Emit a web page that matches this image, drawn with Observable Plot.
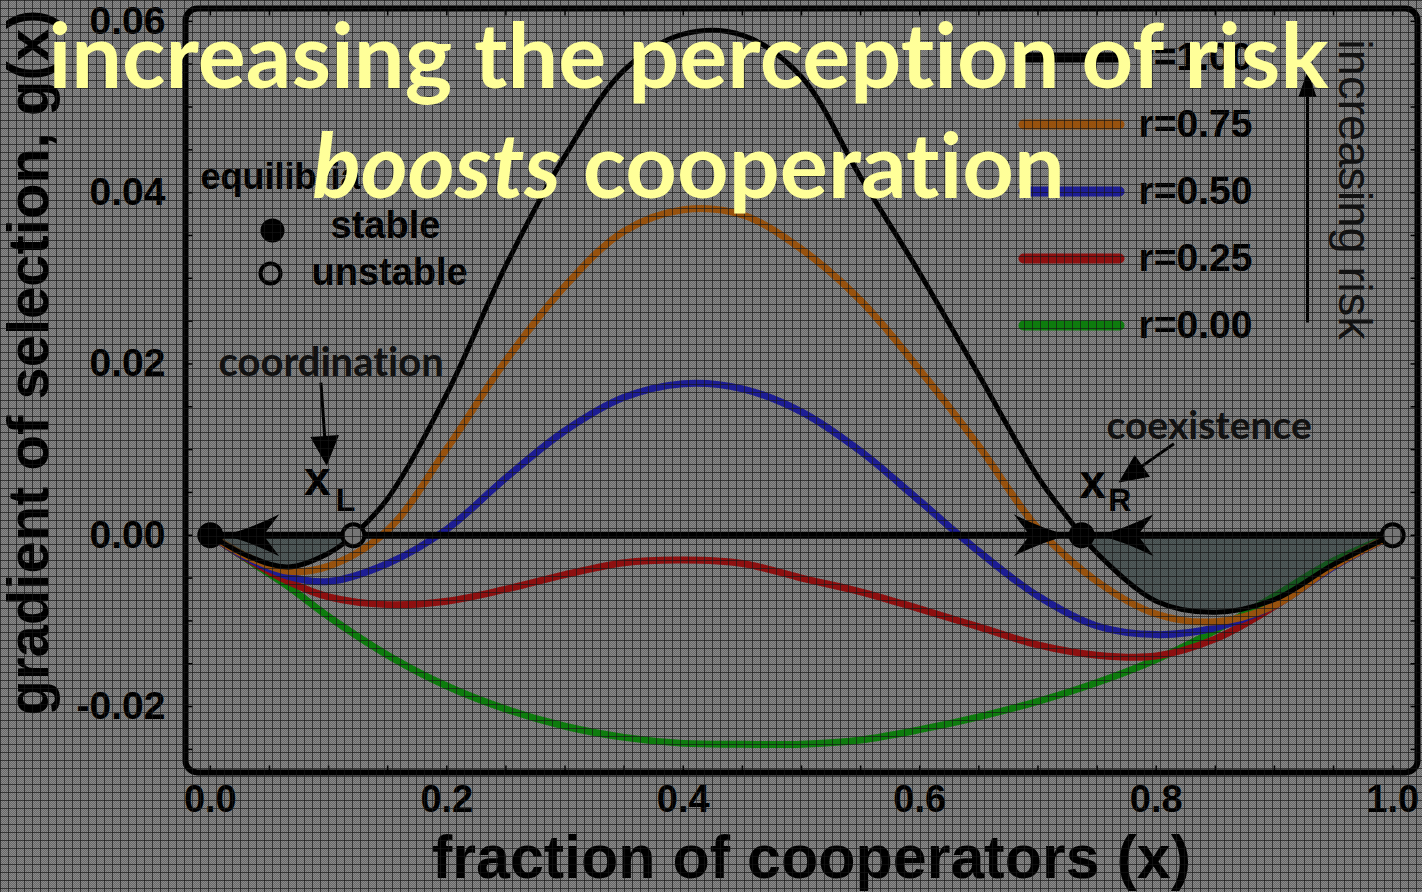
<!DOCTYPE html>
<html>
<head>
<meta charset="utf-8">
<script src="https://cdn.jsdelivr.net/npm/d3@7"></script>
<script src="https://cdn.jsdelivr.net/npm/@observablehq/plot@0.6"></script>
<style>
  html, body { margin: 0; padding: 0; }
  body {
    width: 1422px; height: 892px; overflow: hidden; position: relative;
    background-color: #777777;
    background-image: repeating-conic-gradient(#6a6a6a 0% 25%, #8a8a8a 0% 50%);
    background-size: 2px 2px;
    font-family: "Liberation Sans", Arial, sans-serif;
  }
  #chart { position: absolute; left: 0; top: 0; }
  #chart text { font-variant-ligatures: none; }
  /* fine dark screen grid lying over the whole figure */
  #grain {
    position: absolute; inset: 0; pointer-events: none;
    background-image:
      linear-gradient(90deg, rgba(20,20,20,0.65) 1px, transparent 1px),
      linear-gradient(180deg, rgba(20,20,20,0.65) 1px, transparent 1px);
    background-size: 8px 8px;
  }
  .headline {
    position: absolute; left: 0; width: 1377px; text-align: center;
    font-family: Lato, "Open Sans", sans-serif; font-weight: 700;
    font-size: 90px; line-height: 90px; color: #ffff99; white-space: nowrap;
    font-variant-ligatures: none; font-feature-settings: "liga" 0, "dlig" 0;
  }
</style>
</head>
<body>
<div id="chart"></div>
<div id="grain"></div>
<div class="headline" style="top:8px">increasing the perception of risk</div>
<div class="headline" style="top:118px"><i>boosts</i> cooperation</div>
<script>
// ---- data -------------------------------------------------------------
const riskLabels = ["r=1.00", "r=0.75", "r=0.50", "r=0.25", "r=0.00"];
const riskColors = ["#000000", "#98520e", "#1d1d94", "#8e1010", "#0e7c0e"];

// fraction of cooperators at which g(x) is sampled
const fractionX = [0, 0.033, 0.066, 0.10, 0.15, 0.20, 0.25, 0.30, 0.35, 0.40, 0.45,
                   0.50, 0.55, 0.60, 0.65, 0.70, 0.75, 0.80, 0.85, 0.90, 0.95, 1.00];

// gradient of selection g(x) for each perceived risk r
const gradR100 = [0, -0.0025, -0.0037, -0.0021, 0.0043, 0.0165, 0.0315, 0.0443, 0.0543, 0.0585, 0.0584,
                  0.0535, 0.0418, 0.0306, 0.0187, 0.0068, -0.0021, -0.0077, -0.0090, -0.0075, -0.0034, 0];
const gradR075 = [0, -0.0026, -0.0042, -0.0036, 0.0006, 0.0101, 0.0204, 0.0291, 0.0355, 0.0380, 0.0374,
                  0.0334, 0.0274, 0.0193, 0.0104, 0.0008, -0.0054, -0.0092, -0.0101, -0.0082, -0.0036, 0];
const gradR050 = [0, -0.0028, -0.0048, -0.0054, -0.0033, 0.0007, 0.0067, 0.0122, 0.0161, 0.0177, 0.0171,
                  0.0144, 0.0098, 0.0040, -0.0019, -0.0071, -0.0106, -0.0116, -0.0108, -0.0082, -0.0037, 0];
const gradR025 = [0, -0.0029, -0.0054, -0.0072, -0.0081, -0.0077, -0.0063, -0.0046, -0.0032, -0.0029, -0.0033,
                  -0.0050, -0.0066, -0.0086, -0.0107, -0.0128, -0.0140, -0.0141, -0.0121, -0.0083, -0.0036, 0];
const gradR000 = [0, -0.0030, -0.0060, -0.0095, -0.0140, -0.0176, -0.0203, -0.0223, -0.0236, -0.0243, -0.0244,
                  -0.0244, -0.0239, -0.0227, -0.0212, -0.0194, -0.0172, -0.0145, -0.0111, -0.0071, -0.0030, 0];

// equilibria of the r = 1.00 dynamics
const equilibriumX = [0, 0.121, 0.737, 1];
const equilibriumKind = ["stable", "unstable", "stable", "unstable"];

const xTicks = [0, 0.2, 0.4, 0.6, 0.8, 1.0];
const yTicks = [-0.02, 0, 0.02, 0.04, 0.06];

// ---- tables -------------------------------------------------------------
const seriesValues = [gradR100, gradR075, gradR050, gradR025, gradR000];
const curves = riskLabels.map((label, i) => {
  const pts = fractionX.map((x, j) => ({x, g: seriesValues[i][j]}));
  if (i === 0) {
    equilibriumX.forEach(x => { if (x > 0 && x < 1) pts.push({x, g: 0}); });
    pts.sort((a, b) => a.x - b.x);
  }
  return {label, color: riskColors[i], pts};
});
const black = curves[0].pts;
const xL = equilibriumX[1], xR = equilibriumX[2];
const basinLeft = black.filter(d => d.x <= xL);
const basinRight = black.filter(d => d.x >= xR);
const equilibria = equilibriumX.map((x, i) => ({x, kind: equilibriumKind[i]}));

// ---- custom symbols -----------------------------------------------------
const rotPt = (x, y, a) => [x * Math.cos(a) - y * Math.sin(a), x * Math.sin(a) + y * Math.cos(a)];
// stealth arrowhead, tip at the anchor
function stealthHead(deg) {
  const a = deg * Math.PI / 180;
  return {draw(ctx) {
    const p = (x, y) => rotPt(x, y, a);
    ctx.moveTo(...p(0, 0));
    ctx.quadraticCurveTo(...p(-26, -6), ...p(-56, -21));
    ctx.lineTo(...p(-40, 0));
    ctx.lineTo(...p(-56, 21));
    ctx.quadraticCurveTo(...p(-26, 6), ...p(0, 0));
    ctx.closePath();
  }};
}
// straight arrow with a filled triangular head, tip at the anchor
function pointer(deg, len, headLen, headHalf) {
  const a = deg * Math.PI / 180;
  return {draw(ctx) {
    const p = (x, y) => rotPt(x, y, a);
    ctx.moveTo(...p(-len, 0));
    ctx.lineTo(...p(-headLen + 2, 0));
    ctx.moveTo(...p(0, 0));
    ctx.lineTo(...p(-headLen, -headHalf));
    ctx.lineTo(...p(-headLen, headHalf));
    ctx.closePath();
  }};
}
const swatch = {draw(ctx) { ctx.moveTo(-48, 0); ctx.lineTo(48, 0); }};
const tickSym = (dx, dy) => ({draw(ctx) { ctx.moveTo(0, 0); ctx.lineTo(dx, dy); }});

// ---- chart ----------------------------------------------------------------
const boldSans = {fontFamily: "Liberation Sans, Arial, sans-serif", fontWeight: "bold", fill: "black"};
const calibriLike = {fontFamily: "Lato, sans-serif", fontWeight: "bold", fill: "#111"};
const mid = {lineAnchor: "middle"};
const xMinor = d3.range(0, 1.0001, 0.05);
const yMinor = d3.range(-0.025, 0.0601, 0.005);

const marks = [
  // small inner ticks
  Plot.dot(xMinor, {x: d => d, frameAnchor: "bottom", symbol: tickSym(0, -7), stroke: "black", strokeWidth: 1.5}),
  Plot.dot(xMinor, {x: d => d, frameAnchor: "top", symbol: tickSym(0, 7), stroke: "black", strokeWidth: 1.5}),
  Plot.dot(yMinor, {y: d => d, frameAnchor: "left", symbol: tickSym(7, 0), stroke: "black", strokeWidth: 1.5}),
  Plot.dot(yMinor, {y: d => d, frameAnchor: "right", symbol: tickSym(-7, 0), stroke: "black", strokeWidth: 1.5}),

  Plot.axisX(xTicks, {tickSize: 0, tickPadding: 13, tickFormat: d => d.toFixed(1), fontSize: 38, ...boldSans, label: null}),
  Plot.axisY(yTicks, {tickSize: 0, tickPadding: 20, tickFormat: d => d.toFixed(2), fontSize: 39, ...boldSans, label: null}),

  // colored curves, lowest risk drawn first
  ...curves.slice(1).reverse().map(c =>
    Plot.line(c.pts, {x: "x", y: "g", stroke: c.color, strokeWidth: 7, curve: "catmull-rom"})),

  // basins below zero for r = 1.00
  Plot.areaY(basinLeft, {x: "x", y1: 0, y2: "g", curve: "catmull-rom", fill: "#1b2d2d", fillOpacity: 0.5}),
  Plot.areaY(basinRight, {x: "x", y1: 0, y2: "g", curve: "catmull-rom", fill: "#1b2d2d", fillOpacity: 0.5}),

  Plot.line(black, {x: "x", y: "g", stroke: "black", strokeWidth: 5, curve: "catmull-rom"}),

  // the x-axis of the flow with its direction arrows
  Plot.ruleY([0], {x1: d3.min(equilibriumX), x2: d3.max(equilibriumX), stroke: "black", strokeWidth: 7}),
  Plot.dot([equilibriumX[0]], {x: d => d, y: () => 0, dx: 13, symbol: stealthHead(180), fill: "black"}),
  Plot.dot([xR], {x: d => d, y: () => 0, dx: -12, symbol: stealthHead(0), fill: "black"}),
  Plot.dot([xR], {x: d => d, y: () => 0, dx: 16, symbol: stealthHead(180), fill: "black"}),

  // equilibria
  Plot.dot(equilibria.filter(d => d.kind === "stable"), {x: "x", y: () => 0, r: 13, fill: "black"}),
  Plot.dot(equilibria.filter(d => d.kind === "unstable"), {x: "x", y: () => 0, r: 11, fill: "#767676", stroke: "black", strokeWidth: 4}),

  // x_L and x_R labels
  Plot.text([xL], {x: d => d, y: () => 0, text: () => "x", dx: -36, dy: -56, fontSize: 48, ...boldSans, ...mid}),
  Plot.text([xL], {x: d => d, y: () => 0, text: () => "L", dx: -8, dy: -34, fontSize: 32, ...boldSans, ...mid}),
  Plot.text([xR], {x: d => d, y: () => 0, text: () => "x", dx: 11, dy: -53, fontSize: 48, ...boldSans, ...mid}),
  Plot.text([xR], {x: d => d, y: () => 0, text: () => "R", dx: 38, dy: -34, fontSize: 32, ...boldSans, ...mid}),

  // coordination / coexistence callouts
  Plot.text(["coordination"], {frameAnchor: "top-left", dx: 33, dy: 355, textAnchor: "start", fontSize: 40, ...calibriLike, ...mid}),
  Plot.dot([0], {frameAnchor: "top-left", dx: 141, dy: 454, symbol: pointer(86, 80, 25, 12), fill: "black", stroke: "black", strokeWidth: 3}),
  Plot.text(["coexistence"], {frameAnchor: "top-left", dx: 921, dy: 418, textAnchor: "start", fontSize: 39, ...calibriLike, ...mid}),
  Plot.dot([0], {frameAnchor: "top-left", dx: 936, dy: 472, symbol: pointer(145, 64, 24, 11), fill: "black", stroke: "black", strokeWidth: 3}),

  // symbol key for equilibria
  Plot.text(["equilibria"], {frameAnchor: "top-left", dx: 15, dy: 169, textAnchor: "start", fontSize: 36, ...boldSans, ...mid}),
  Plot.dot([0], {frameAnchor: "top-left", dx: 87, dy: 222, r: 12, fill: "black"}),
  Plot.text(["stable"], {frameAnchor: "top-left", dx: 145, dy: 217, textAnchor: "start", fontSize: 38, ...boldSans, ...mid}),
  Plot.dot([0], {frameAnchor: "top-left", dx: 85, dy: 265, r: 10, fill: "none", stroke: "black", strokeWidth: 4}),
  Plot.text(["unstable"], {frameAnchor: "top-left", dx: 126, dy: 264, textAnchor: "start", fontSize: 38, ...boldSans, ...mid}),

  // risk legend
  ...curves.flatMap((c, i) => [
    Plot.dot([0], {frameAnchor: "top-left", dx: 886, dy: 49 + i * 67, symbol: swatch, fill: "none",
                   stroke: c.color, strokeWidth: 10, strokeLinecap: "round"}),
    Plot.text([c.label], {frameAnchor: "top-left", dx: 953, dy: 49 + i * 67, textAnchor: "start", fontSize: 39, ...boldSans, ...mid})
  ]),
  Plot.dot([0], {frameAnchor: "top-left", dx: 1122, dy: 67, symbol: pointer(-90, 247, 20, 7), fill: "black", stroke: "black", strokeWidth: 3}),
  Plot.text(["increasing risk"], {frameAnchor: "top-left", dx: 1169, dy: 181, rotate: 90, fontSize: 47,
                                  textAnchor: "middle", ...mid,
                                  fontFamily: "Liberation Sans, Arial, sans-serif", fill: "#111"}),

  // axis titles
  Plot.text(["fraction of cooperators (x)"], {frameAnchor: "bottom", dx: 10, dy: 86, fontSize: 61,
                                              textAnchor: "middle", ...boldSans, ...mid}),
  Plot.text(["gradient of selection, g(x)"], {frameAnchor: "left", dx: -156, dy: -28, rotate: -90, fontSize: 58,
                                              textAnchor: "middle", ...boldSans, ...mid}),

  Plot.frame({stroke: "black", strokeWidth: 6, rx: 12})
];

const chart = Plot.plot({
  width: 1422,
  height: 892,
  marginLeft: 185,
  marginRight: 5,
  marginTop: 8,
  marginBottom: 120,
  x: {domain: [-0.021, 1.021]},
  y: {domain: [-0.0277, 0.0615]},
  style: {background: "transparent", overflow: "visible"},
  marks
});
document.getElementById("chart").appendChild(chart);
</script>
</body>
</html>
